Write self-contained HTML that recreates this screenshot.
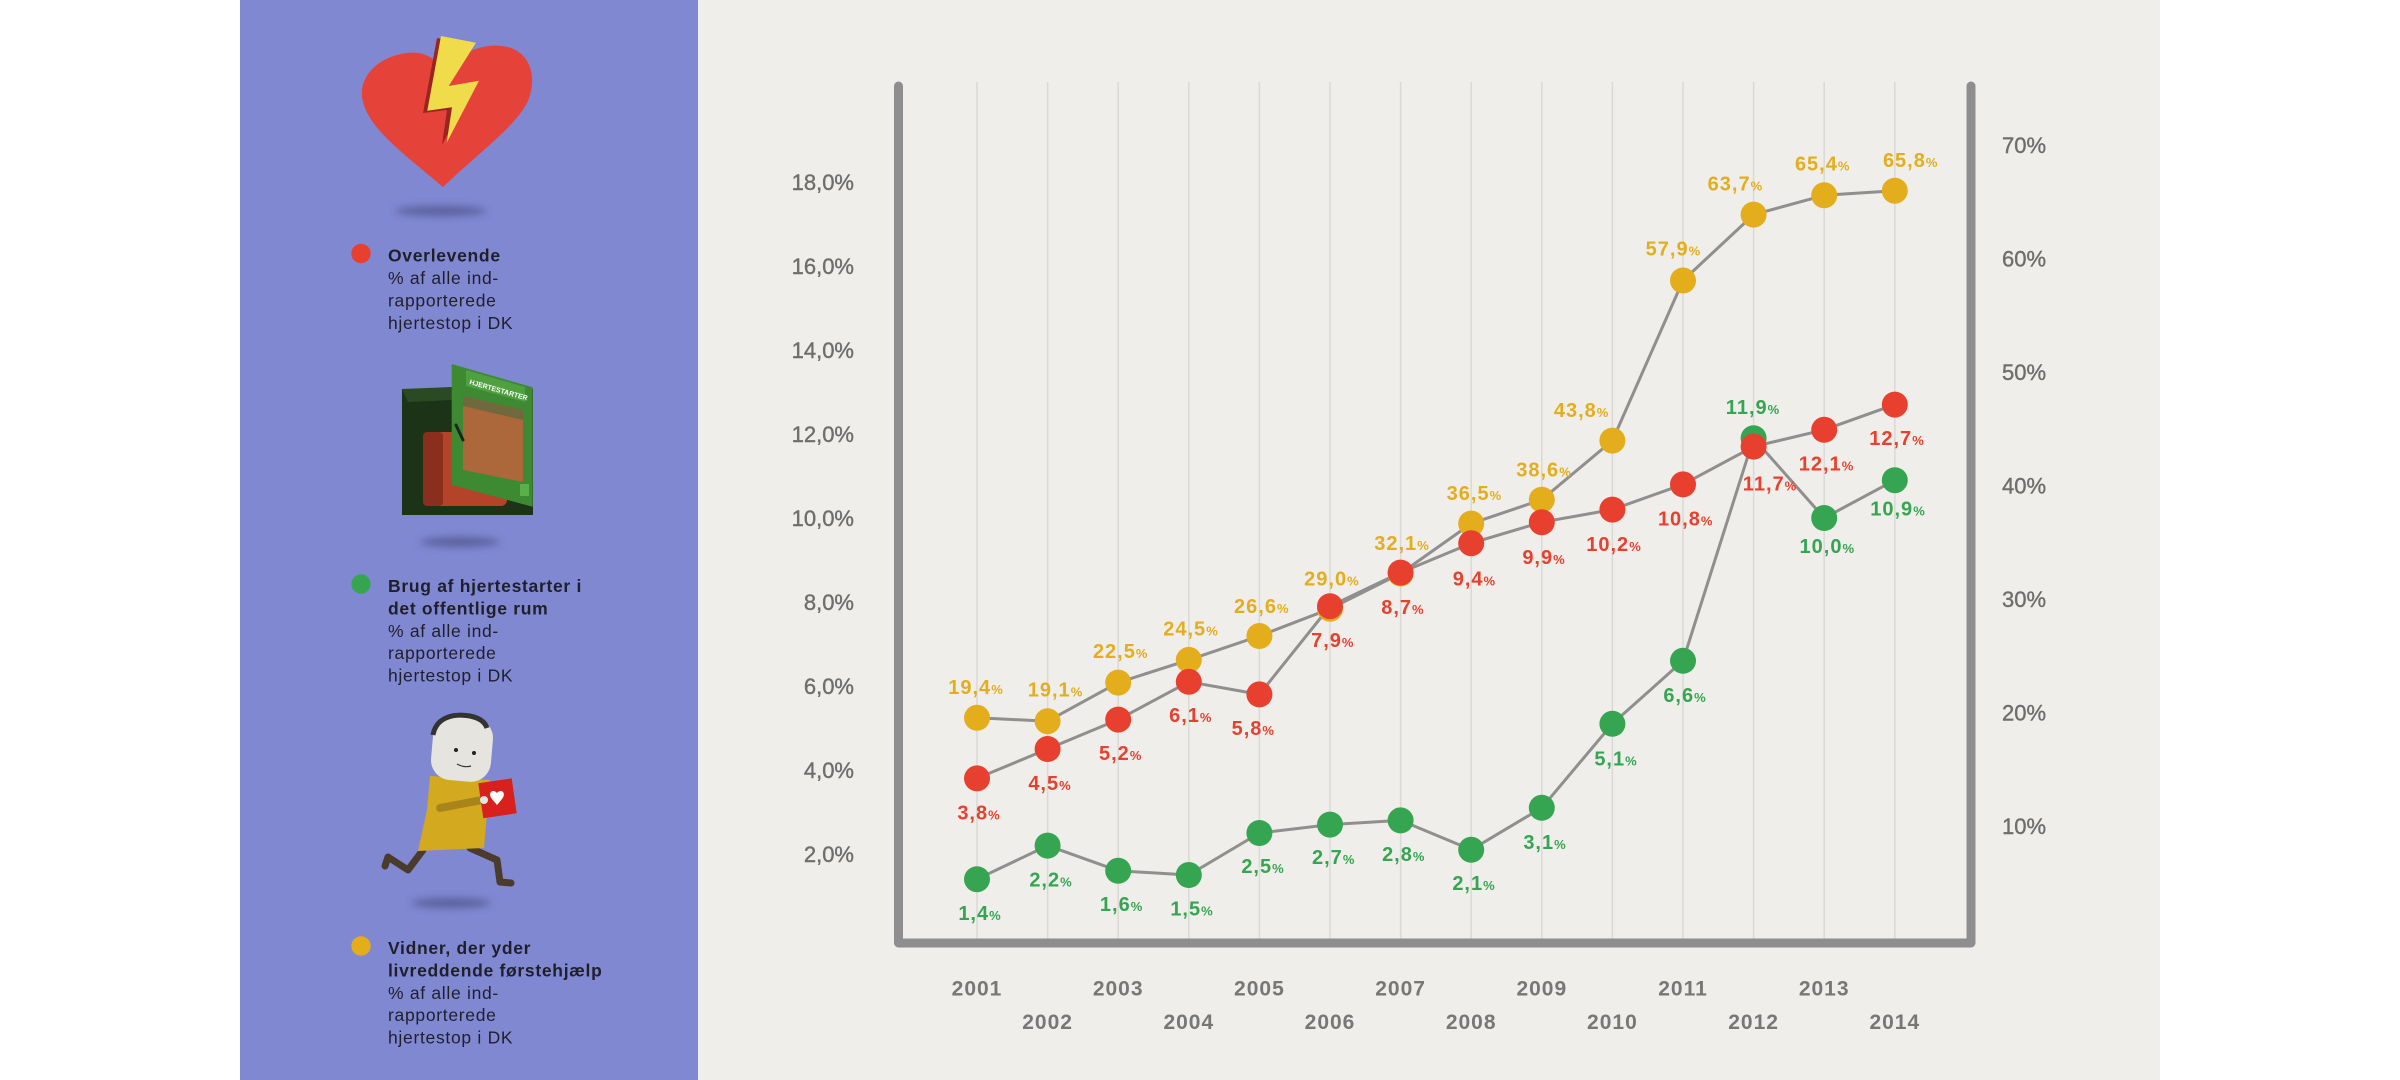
<!DOCTYPE html>
<html><head><meta charset="utf-8"><style>
html,body{margin:0;padding:0;background:#fff;}
body{width:2400px;height:1080px;overflow:hidden;}
svg{display:block;}
text{font-family:"Liberation Sans",sans-serif;}
</style></head><body>
<svg width="2400" height="1080" viewBox="0 0 2400 1080" xmlns="http://www.w3.org/2000/svg">
<defs>
<filter id="blur" x="-50%" y="-200%" width="200%" height="500%"><feGaussianBlur stdDeviation="4"/></filter>
</defs>
<rect x="0" y="0" width="2400" height="1080" fill="#ffffff"/>
<rect x="240" y="0" width="458" height="1080" fill="#8188d2"/>
<rect x="698" y="0" width="1462" height="1080" fill="#efeeea"/>

<!-- Heart -->
<ellipse cx="441" cy="211" rx="46" ry="5" fill="#3a3f70" opacity="0.55" filter="url(#blur)"/>
<path d="M443,70 C430,50 412,51 397,55 C372,62 360,80 362,97 C366,127 402,152 443,187 C482,150 516,126 528,101 C538,76 530,50 503,46 C481,43 459,54 443,70 Z" fill="#e5433a"/>
<polygon points="437,38 472,45 444,88 475,83 442,145 447,110 423,113" fill="#9a2420"/>
<polygon points="441,36 476,42.7 448.7,86 479,80.7 446.7,142.7 452,107.3 427.3,110.7" fill="#f0dc4a"/>

<!-- Legend red -->
<circle cx="361" cy="253.5" r="9.7" fill="#e8402e"/>
<g fill="#1f1f2b" font-size="17.5" letter-spacing="0.7">
<text x="388" y="261.7" font-weight="bold">Overlevende</text>
<text x="388" y="284.2">% af alle ind-</text>
<text x="388" y="306.6">rapporterede</text>
<text x="388" y="329">hjertestop i DK</text>
</g>

<!-- Defibrillator box -->
<ellipse cx="460" cy="542" rx="40" ry="5" fill="#3a3f70" opacity="0.55" filter="url(#blur)"/>
<rect x="402" y="389" width="131" height="126" fill="#1c3317"/>
<polygon points="402,389 452,387 452,400 408,402" fill="#2b4a24"/>
<rect x="423" y="432" width="84" height="74" rx="6" fill="#b4432a"/>
<rect x="423" y="432" width="20" height="74" rx="4" fill="#8a2e1e"/>
<polygon points="451.7,364 532.7,387.3 532.7,506.7 451.7,485" fill="#3e8a33"/>
<polygon points="463,396 523,410 523,482 463,470" fill="#c0603c" opacity="0.85"/>
<polygon points="463,396 523,410 523,420 463,406" fill="#4a6a40" opacity="0.6"/>
<polygon points="466,370 525,387 525,402 466,386" fill="#4fa040"/>
<text x="0" y="0" font-size="7" font-weight="bold" fill="#ffffff" transform="translate(469,384) rotate(16)">HJERTESTARTER</text>
<rect x="520" y="484" width="9" height="12" fill="#5cb04a"/>
<path d="M456,425 L463,440" stroke="#222" stroke-width="3" stroke-linecap="round"/>

<!-- Legend green -->
<circle cx="361" cy="584" r="9.7" fill="#36a552"/>
<g fill="#1f1f2b" font-size="17.5" letter-spacing="0.7">
<text x="388" y="592" font-weight="bold">Brug af hjertestarter i</text>
<text x="388" y="614.4" font-weight="bold">det offentlige rum</text>
<text x="388" y="636.8">% af alle ind-</text>
<text x="388" y="659.2">rapporterede</text>
<text x="388" y="681.6">hjertestop i DK</text>
</g>

<!-- Running man -->
<ellipse cx="451" cy="903" rx="40" ry="5" fill="#3a3f70" opacity="0.55" filter="url(#blur)"/>
<path d="M423,850 L408,870 L388,857 M388,857 L385,866" stroke="#4a3b2c" stroke-width="7" fill="none" stroke-linecap="round" stroke-linejoin="round"/>
<path d="M470,848 L497,860 L500,882 L511,883" stroke="#4a3b2c" stroke-width="7" fill="none" stroke-linecap="round" stroke-linejoin="round"/>
<polygon points="430,776 490,780 484,848 418,851 427,810" fill="#d2a91f"/>
<path d="M440,808 L482,800" stroke="#a8841a" stroke-width="8" stroke-linecap="round"/>
<rect x="432" y="717" width="60" height="64" rx="20" fill="#e6e4de" transform="rotate(5 462 749)"/>
<path d="M433,735 C436,718 452,713 470,716 C480,718 485,722 487,728" stroke="#333" stroke-width="5" fill="none"/>
<circle cx="456" cy="750" r="2" fill="#222"/>
<circle cx="474" cy="753" r="2" fill="#222"/>
<path d="M457,764 Q464,768 471,766" stroke="#333" stroke-width="1.2" fill="none"/>
<polygon points="478.3,783.3 511.7,778.3 516.7,813.3 483.3,818.3" fill="#d8201c"/>
<path d="M497,793 c-4,-5 -10,0 -5,6 l5,6 l5,-6 c5,-6 -1,-11 -5,-6z" fill="#fff"/>
<circle cx="484" cy="800" r="4" fill="#e6e4de"/>

<!-- Legend yellow -->
<circle cx="361" cy="946" r="9.7" fill="#e4ad1c"/>
<g fill="#1f1f2b" font-size="17.5" letter-spacing="0.7">
<text x="388" y="954" font-weight="bold">Vidner, der yder</text>
<text x="388" y="976.4" font-weight="bold">livreddende førstehjælp</text>
<text x="388" y="998.8">% af alle ind-</text>
<text x="388" y="1021.2">rapporterede</text>
<text x="388" y="1043.6">hjertestop i DK</text>
</g>

<!-- Grid lines -->
<g stroke="#d9d9d6" stroke-width="1.5">
<line x1="977" y1="82" x2="977" y2="939"/>
<line x1="1047.6" y1="82" x2="1047.6" y2="939"/>
<line x1="1118.2" y1="82" x2="1118.2" y2="939"/>
<line x1="1188.8" y1="82" x2="1188.8" y2="939"/>
<line x1="1259.4" y1="82" x2="1259.4" y2="939"/>
<line x1="1330" y1="82" x2="1330" y2="939"/>
<line x1="1400.6" y1="82" x2="1400.6" y2="939"/>
<line x1="1471.2" y1="82" x2="1471.2" y2="939"/>
<line x1="1541.8" y1="82" x2="1541.8" y2="939"/>
<line x1="1612.4" y1="82" x2="1612.4" y2="939"/>
<line x1="1683" y1="82" x2="1683" y2="939"/>
<line x1="1753.6" y1="82" x2="1753.6" y2="939"/>
<line x1="1824.2" y1="82" x2="1824.2" y2="939"/>
<line x1="1894.8" y1="82" x2="1894.8" y2="939"/>
</g>

<!-- Axes -->
<path d="M898.5,86 V943 H1971 V86" fill="none" stroke="#8e8e90" stroke-width="9" stroke-linecap="round" stroke-linejoin="round"/>

<!-- Left tick labels -->
<g fill="#6e6e6e" font-size="22" text-anchor="end" stroke="#6e6e6e" stroke-width="0.4">
<text x="854" y="190">18,0%</text>
<text x="854" y="274">16,0%</text>
<text x="854" y="358">14,0%</text>
<text x="854" y="442">12,0%</text>
<text x="854" y="526">10,0%</text>
<text x="854" y="610">8,0%</text>
<text x="854" y="694">6,0%</text>
<text x="854" y="778">4,0%</text>
<text x="854" y="862">2,0%</text>
</g>

<!-- Right tick labels -->
<g fill="#6e6e6e" font-size="22" stroke="#6e6e6e" stroke-width="0.4">
<text x="2002" y="153">70%</text>
<text x="2002" y="266.5">60%</text>
<text x="2002" y="380">50%</text>
<text x="2002" y="493.5">40%</text>
<text x="2002" y="607">30%</text>
<text x="2002" y="720.6">20%</text>
<text x="2002" y="834">10%</text>
</g>

<!-- Year labels -->
<g fill="#777777" font-size="21" font-weight="bold" text-anchor="middle" letter-spacing="1">
<text x="977" y="995.5">2001</text>
<text x="1047.6" y="1029">2002</text>
<text x="1118.2" y="995.5">2003</text>
<text x="1188.8" y="1029">2004</text>
<text x="1259.4" y="995.5">2005</text>
<text x="1330" y="1029">2006</text>
<text x="1400.6" y="995.5">2007</text>
<text x="1471.2" y="1029">2008</text>
<text x="1541.8" y="995.5">2009</text>
<text x="1612.4" y="1029">2010</text>
<text x="1683" y="995.5">2011</text>
<text x="1753.6" y="1029">2012</text>
<text x="1824.2" y="995.5">2013</text>
<text x="1894.8" y="1029">2014</text>
</g>

<!-- Series lines -->
<g fill="none" stroke="#8f8f8f" stroke-width="3" stroke-linejoin="round">
<polyline points="977,717.8 1047.6,721.2 1118.2,682.6 1188.8,659.9 1259.4,636 1330,608.8 1400.6,573.5 1471.2,523.6 1541.8,499.7 1612.4,440.6 1683,280.5 1753.6,214.6 1824.2,195.3 1894.8,190.7"/>
<polyline points="977,879.2 1047.6,845.6 1118.2,870.8 1188.8,875 1259.4,833 1330,824.6 1400.6,820.4 1471.2,849.8 1541.8,807.8 1612.4,723.8 1683,660.8 1753.6,438.2 1824.2,518 1894.8,480.2"/>
<polyline points="977,778.4 1047.6,749 1118.2,719.6 1188.8,681.8 1259.4,694.4 1330,606.2 1400.6,572.6 1471.2,543.2 1541.8,522.2 1612.4,509.6 1683,484.4 1753.6,446.6 1824.2,429.8 1894.8,404.6"/>
</g>

<!-- Yellow dots -->
<g fill="#e4ad1c">
<circle cx="977" cy="717.8" r="13"/><circle cx="1047.6" cy="721.2" r="13"/><circle cx="1118.2" cy="682.6" r="13"/><circle cx="1188.8" cy="659.9" r="13"/><circle cx="1259.4" cy="636" r="13"/><circle cx="1330" cy="608.8" r="13"/><circle cx="1400.6" cy="573.5" r="13"/><circle cx="1471.2" cy="523.6" r="13"/><circle cx="1541.8" cy="499.7" r="13"/><circle cx="1612.4" cy="440.6" r="13"/><circle cx="1683" cy="280.5" r="13"/><circle cx="1753.6" cy="214.6" r="13"/><circle cx="1824.2" cy="195.3" r="13"/><circle cx="1894.8" cy="190.7" r="13"/>
</g>
<!-- Green dots -->
<g fill="#36a552">
<circle cx="977" cy="879.2" r="13"/><circle cx="1047.6" cy="845.6" r="13"/><circle cx="1118.2" cy="870.8" r="13"/><circle cx="1188.8" cy="875" r="13"/><circle cx="1259.4" cy="833" r="13"/><circle cx="1330" cy="824.6" r="13"/><circle cx="1400.6" cy="820.4" r="13"/><circle cx="1471.2" cy="849.8" r="13"/><circle cx="1541.8" cy="807.8" r="13"/><circle cx="1612.4" cy="723.8" r="13"/><circle cx="1683" cy="660.8" r="13"/><circle cx="1753.6" cy="438.2" r="13"/><circle cx="1824.2" cy="518" r="13"/><circle cx="1894.8" cy="480.2" r="13"/>
</g>
<!-- Red dots -->
<g fill="#e8402e">
<circle cx="977" cy="778.4" r="13"/><circle cx="1047.6" cy="749" r="13"/><circle cx="1118.2" cy="719.6" r="13"/><circle cx="1188.8" cy="681.8" r="13"/><circle cx="1259.4" cy="694.4" r="13"/><circle cx="1330" cy="606.2" r="13"/><circle cx="1400.6" cy="572.6" r="13"/><circle cx="1471.2" cy="543.2" r="13"/><circle cx="1541.8" cy="522.2" r="13"/><circle cx="1612.4" cy="509.6" r="13"/><circle cx="1683" cy="484.4" r="13"/><circle cx="1753.6" cy="446.6" r="13"/><circle cx="1824.2" cy="429.8" r="13"/><circle cx="1894.8" cy="404.6" r="13"/>
</g>

<!-- Yellow labels -->
<g fill="#e4ad1c" font-size="20" font-weight="bold" text-anchor="middle" letter-spacing="1">
<text x="976" y="694">19,4<tspan font-size="13">%</tspan></text>
<text x="1055.5" y="696.5">19,1<tspan font-size="13">%</tspan></text>
<text x="1120.7" y="658">22,5<tspan font-size="13">%</tspan></text>
<text x="1191" y="635.5">24,5<tspan font-size="13">%</tspan></text>
<text x="1261.8" y="613">26,6<tspan font-size="13">%</tspan></text>
<text x="1331.9" y="585.5">29,0<tspan font-size="13">%</tspan></text>
<text x="1402" y="550">32,1<tspan font-size="13">%</tspan></text>
<text x="1474.4" y="500">36,5<tspan font-size="13">%</tspan></text>
<text x="1544" y="476.5">38,6<tspan font-size="13">%</tspan></text>
<text x="1581.6" y="417">43,8<tspan font-size="13">%</tspan></text>
<text x="1673.4" y="255.5">57,9<tspan font-size="13">%</tspan></text>
<text x="1735.4" y="190.5">63,7<tspan font-size="13">%</tspan></text>
<text x="1822.7" y="170.5">65,4<tspan font-size="13">%</tspan></text>
<text x="1910.7" y="167">65,8<tspan font-size="13">%</tspan></text>
</g>

<!-- Red labels -->
<g fill="#e8402e" font-size="20" font-weight="bold" text-anchor="middle" letter-spacing="1">
<text x="979" y="819.5">3,8<tspan font-size="13">%</tspan></text>
<text x="1050" y="790">4,5<tspan font-size="13">%</tspan></text>
<text x="1120.7" y="760">5,2<tspan font-size="13">%</tspan></text>
<text x="1190.8" y="722">6,1<tspan font-size="13">%</tspan></text>
<text x="1253.3" y="735">5,8<tspan font-size="13">%</tspan></text>
<text x="1332.8" y="647">7,9<tspan font-size="13">%</tspan></text>
<text x="1402.9" y="614">8,7<tspan font-size="13">%</tspan></text>
<text x="1474.4" y="585.5">9,4<tspan font-size="13">%</tspan></text>
<text x="1544" y="564">9,9<tspan font-size="13">%</tspan></text>
<text x="1614" y="551">10,2<tspan font-size="13">%</tspan></text>
<text x="1685.7" y="525.5">10,8<tspan font-size="13">%</tspan></text>
<text x="1770" y="490.5">11,7<tspan font-size="13">%</tspan></text>
<text x="1826.5" y="470.5">12,1<tspan font-size="13">%</tspan></text>
<text x="1897" y="445">12,7<tspan font-size="13">%</tspan></text>
</g>

<!-- Green labels -->
<g fill="#36a552" font-size="20" font-weight="bold" text-anchor="middle" letter-spacing="1">
<text x="980" y="920">1,4<tspan font-size="13">%</tspan></text>
<text x="1051" y="886.5">2,2<tspan font-size="13">%</tspan></text>
<text x="1121.6" y="911">1,6<tspan font-size="13">%</tspan></text>
<text x="1192" y="915.5">1,5<tspan font-size="13">%</tspan></text>
<text x="1263" y="873">2,5<tspan font-size="13">%</tspan></text>
<text x="1333.7" y="864">2,7<tspan font-size="13">%</tspan></text>
<text x="1403.75" y="861">2,8<tspan font-size="13">%</tspan></text>
<text x="1474" y="890">2,1<tspan font-size="13">%</tspan></text>
<text x="1545" y="849">3,1<tspan font-size="13">%</tspan></text>
<text x="1616" y="765.5">5,1<tspan font-size="13">%</tspan></text>
<text x="1685" y="702">6,6<tspan font-size="13">%</tspan></text>
<text x="1753" y="414">11,9<tspan font-size="13">%</tspan></text>
<text x="1827.3" y="553">10,0<tspan font-size="13">%</tspan></text>
<text x="1898" y="515.5">10,9<tspan font-size="13">%</tspan></text>
</g>
</svg>
</body></html>
